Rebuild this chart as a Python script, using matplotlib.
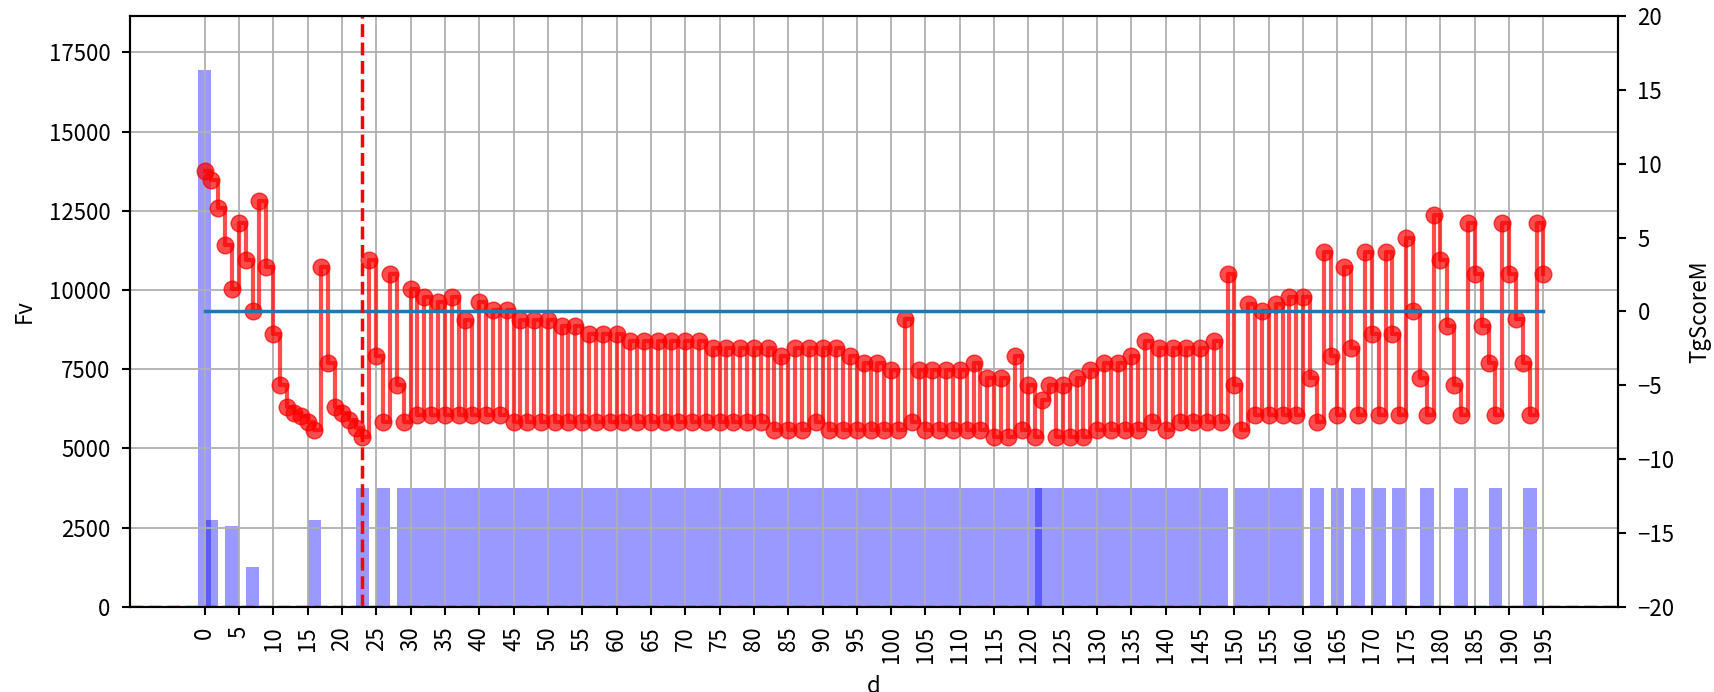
import numpy as np
import matplotlib
matplotlib.use("Agg")
import matplotlib.pyplot as plt

plt.rcParams['font.family'] = ['Noto Sans CJK JP', 'DejaVu Sans']
plt.rcParams['axes.unicode_minus'] = True

# distance index (x axis)
d = np.arange(196)

# TgScoreM values, one per d
score = [
    9.5, 8.9, 7.0, 4.5, 1.5, 6.0, 3.5, 0.0, 7.5, 3.0,
    -1.5, -5.0, -6.5, -6.9, -7.05, -7.5, -8.0, 3.0, -3.5, -6.5,
    -6.9, -7.35, -7.9, -8.5, 3.5, -3.0, -7.5, 2.5, -5.0, -7.5,
    1.5, -7.0, 1.0, -7.0, 0.65, -7.0, 1.0, -7.0, -0.55, -7.0,
    0.65, -7.0, 0.1, -7.0, 0.1, -7.5, -0.55, -7.5, -0.55, -7.5,
    -0.55, -7.5, -1.0, -7.5, -1.0, -7.5, -1.5, -7.5, -1.5, -7.5,
    -1.5, -7.5, -2.0, -7.5, -2.0, -7.5, -2.0, -7.5, -2.0, -7.5,
    -2.0, -7.5, -2.0, -7.5, -2.5, -7.5, -2.5, -7.5, -2.5, -7.5,
    -2.5, -7.5, -2.5, -8.0, -3.0, -8.0, -2.5, -8.0, -2.5, -7.5,
    -2.5, -8.0, -2.5, -8.0, -3.0, -8.0, -3.5, -8.0, -3.5, -8.0,
    -4.0, -8.0, -0.5, -7.5, -4.0, -8.0, -4.0, -8.0, -4.0, -8.0,
    -4.0, -8.0, -3.5, -8.0, -4.5, -8.5, -4.5, -8.5, -3.0, -8.0,
    -5.0, -8.5, -6.0, -5.0, -8.5, -5.0, -8.5, -4.5, -8.5, -4.0,
    -8.0, -3.5, -8.0, -3.5, -8.0, -3.0, -8.0, -2.0, -7.5, -2.5,
    -8.0, -2.5, -7.5, -2.5, -7.5, -2.5, -7.5, -2.0, -7.5, 2.5,
    -5.0, -8.0, 0.5, -7.0, 0.0, -7.0, 0.5, -7.0, 1.0, -7.0,
    1.0, -4.5, -7.5, 4.0, -3.0, -7.0, 3.0, -2.5, -7.0, 4.0,
    -1.5, -7.0, 4.0, -1.5, -7.0, 5.0, 0.0, -4.5, -7.0, 6.5,
    3.5, -1.0, -5.0, -7.0, 6.0, 2.5, -1.0, -3.5, -7.0, 6.0,
    2.5, -0.5, -3.5, -7.0, 6.0, 2.5,
]

# Fv: non-zero bars (d position -> value), all other d are 0
fv_d = ([0, 1, 4, 7, 16, 23, 26] + list(range(29, 122, 2)) + list(range(122, 149, 2))
        + list(range(151, 160, 2)) + [162, 165, 168, 171, 174, 178, 183, 188, 193])
fv_val = [16950, 2750, 2550, 1250, 2750, 3750, 3750] + [3750] * (len(fv_d) - 7)

fv = np.zeros(len(d))
fv[fv_d] = fv_val

cut_d = 23          # red dashed marker
baseline = 0.0      # TgScoreM reference level

fig = plt.figure(figsize=(17.14, 6.92), dpi=100)
ax1 = fig.add_axes([130 / 1714, 1 - 606.8 / 692, 1488 / 1714, 590.8 / 692])

ax1.bar(d, fv, width=2, color='blue', alpha=0.4)
ax1.axhline(0, color='red', linestyle='--', linewidth=2.5)
ax1.set_ylim(0, 18650)
ax1.set_ylabel('Fv', fontsize=16, labelpad=9)
ax1.set_xlabel('d', fontsize=16, labelpad=8)
ax1.grid(True, linewidth=1.3)
ax1.set_xticks(np.arange(0, 200, 5))
ax1.tick_params(axis='x', labelrotation=90)

ax2 = ax1.twinx()
ax2.step(d, score, where='post', color='red', marker='o', markersize=12,
         linewidth=3, alpha=0.7)
ax2.plot(d, np.full(len(d), baseline), color='#1f77b4', linewidth=2.5)
ax2.axvline(cut_d, color='red', linestyle='--', linewidth=2.5)
ax2.set_ylim(-20, 20)
ax2.set_yticks(np.arange(-20, 21, 5))
ax2.set_ylabel('TgScoreM', fontsize=16, labelpad=9.5)

for ax in (ax1, ax2):
    ax.tick_params(labelsize=16, length=6, width=1.5, pad=8)
    for sp in ax.spines.values():
        sp.set_linewidth(1.5)

fig.savefig('out.png', dpi=100)
